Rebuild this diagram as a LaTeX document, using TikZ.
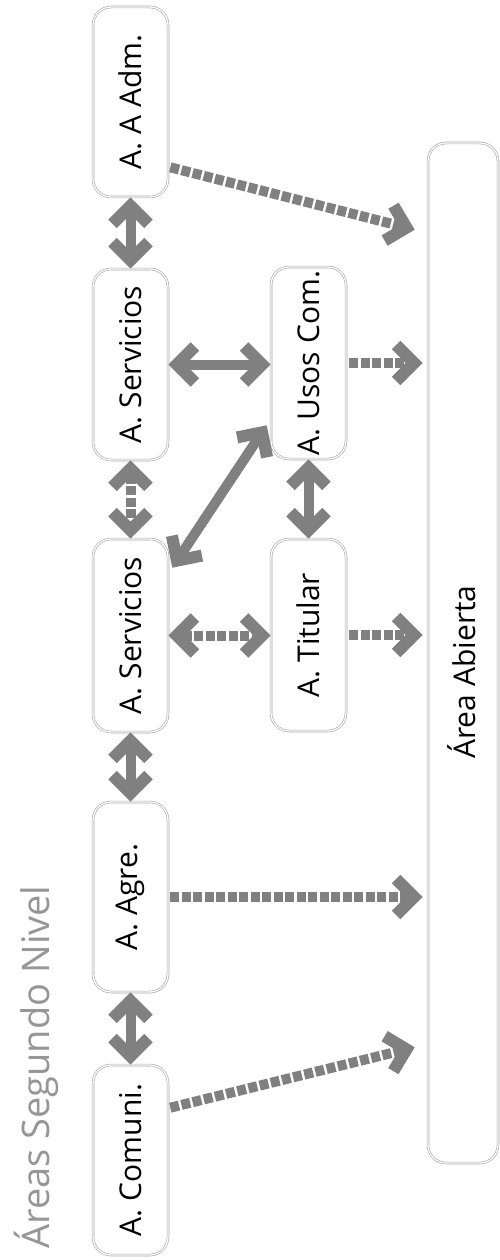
\documentclass[tikz,border=0pt]{standalone}
\usepackage{fontspec}
\setmainfont{Open Sans}
\usetikzlibrary{arrows.meta,calc}
\definecolor{agray}{RGB}{128,128,128}
\definecolor{bgray}{RGB}{165,165,165}
\definecolor{tgray}{RGB}{150,150,150}
\begin{document}
\begin{tikzpicture}[x=1pt,y=-1pt,
  box/.style={draw=bgray, double=white, double distance=1.3pt, line width=0.6pt,
    rounded corners=18pt, minimum width=75pt, inner sep=0pt,
    font=\fontsize{30}{36}\selectfont},
  chev/.tip={Straight Barb[length=18pt,width=36pt,line width=12pt,sharp]},
  conn/.style={draw=agray, line width=10pt},
  dconn/.style={conn, dash pattern=on 9pt off 2.5pt},
  lbl/.style={inner sep=0pt, font=\fontsize{30}{36}\selectfont}]
\useasboundingbox (0,0) rectangle (499,1260);
\fill[white] (0,0) rectangle (499,1260);

% title
\node[text=tgray, font=\fontsize{38}{44}\selectfont, rotate=90, inner sep=0pt] (title) at (36,1067) {Áreas Segundo Nivel};

% column 1
\node[box, minimum height=190pt] (adm) at (130.5,102) {\rotatebox{90}{A. A Adm.}};
\node[box, minimum height=191pt] (serv1) at (130.5,364.5) {\rotatebox{90}{A. Servicios}};
\node[box, minimum height=193pt] (serv2) at (130.5,635.5) {\rotatebox{90}{A. Servicios}};
\node[box, minimum height=190pt] (agre) at (130.5,897) {\rotatebox{90}{A. Agre.}};
\node[box, minimum height=190pt] (comuni) at (130.5,1160) {\rotatebox{90}{A. Comuni.}};

% column 2
\node[box, minimum height=192pt] (usos) at (308.5,363) {\rotatebox{90}{A. Usos Com.}};
\node[box, minimum height=192pt] (titular) at (308.5,635) {\rotatebox{90}{A. Titular}};

% open area
\node[box, minimum width=70pt, minimum height=1020pt] (abierta) at (463,653) {};
\node[lbl, rotate=90] (abiertatxt) at (462,672) {Área Abierta};

% vertical links
\draw[conn, chev-chev] (adm.south) -- (serv1.north);
\draw[dconn, chev-chev] (serv1.south) -- (serv2.north);
\draw[conn, chev-chev] (serv2.south) -- (agre.north);
\draw[conn, chev-chev] (agre.south) -- (comuni.north);
\draw[conn, chev-chev] (usos.south) -- (titular.north);

% horizontal links
\draw[conn, chev-chev] (serv1.east) -- (serv1.east -| usos.west);
\draw[dconn, chev-chev] (serv2.east) -- (serv2.east -| titular.west);
\draw[conn, chev-chev] ([xshift=4pt,yshift=-29pt]serv2.north east) -- ([xshift=-4pt,yshift=34pt]usos.south west);

% to open area
\draw[dconn, -chev, shorten <=3pt, shorten >=5pt] (usos.east) -- (usos.east -| abierta.west);
\draw[dconn, -chev, shorten <=3pt, shorten >=5pt] (titular.east) -- (titular.east -| abierta.west);
\draw[dconn, -chev, shorten <=2pt, shorten >=5pt] (agre.east) -- (agre.east -| abierta.west);
\draw[dconn, -chev] ([xshift=2pt,yshift=30pt]adm.south east) -- ([xshift=-13pt,yshift=-87pt]abierta.north west);
\draw[dconn, -chev] ([xshift=2pt,yshift=-43pt]comuni.north east) -- ([xshift=-13pt,yshift=116pt]abierta.south west);
\end{tikzpicture}
\end{document}
